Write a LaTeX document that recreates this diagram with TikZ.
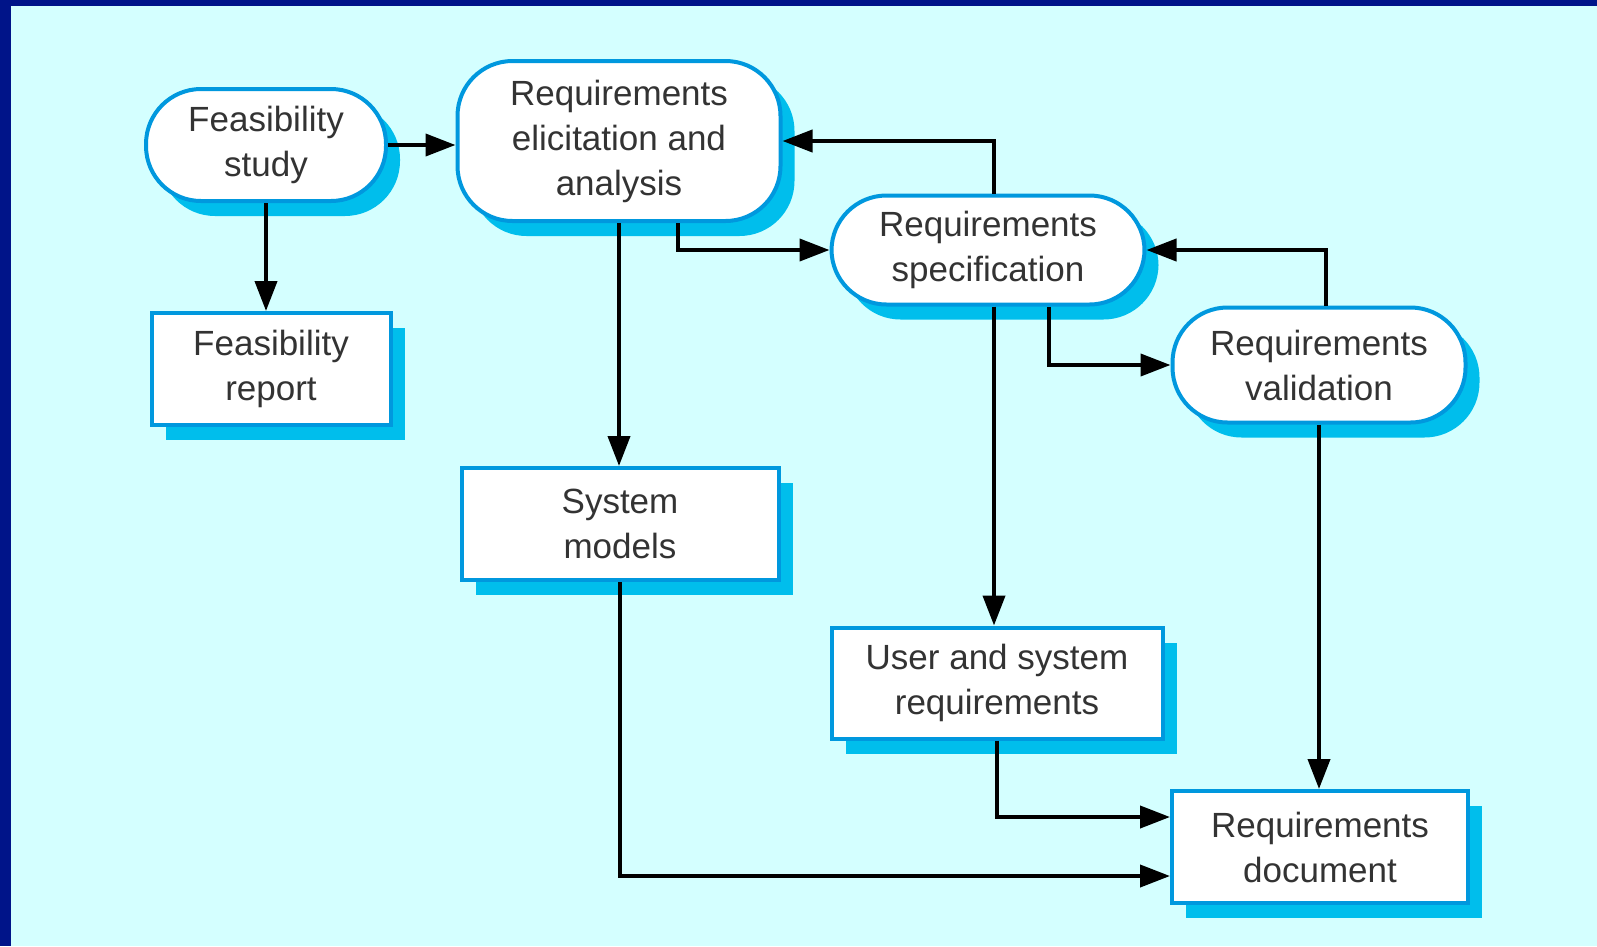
\documentclass[tikz,border=0pt]{standalone}
\usepackage{fontspec}
\setmainfont{Liberation Sans}
\usepackage{tikz}
\usetikzlibrary{arrows.meta,shadows,calc}

\definecolor{navy}{RGB}{0,20,137}
\definecolor{paper}{RGB}{212,255,255}
\definecolor{edgeblue}{RGB}{0,152,222}
\definecolor{shadecyan}{RGB}{0,190,236}

\begin{document}
\begin{tikzpicture}[x=1pt, y=-1pt, font=\fontsize{35}{45}\selectfont,
  procbox/.style={draw=edgeblue, line width=4pt, fill=white, text=black!80,
    rounded corners=55pt, align=center, inner sep=0pt,
    drop shadow={shadow xshift=14pt, shadow yshift=-15pt, fill=shadecyan, opacity=1}},
  docbox/.style={procbox, rounded corners=0pt},
  flow/.style={line width=4pt, -{Triangle[length=30pt, width=22pt]}}]
  % frame and background
  \useasboundingbox (0,0) rectangle (1597,946);
  \fill[navy] (0,0) rectangle (1597,946);
  \fill[paper] (11,6) rectangle (1597,946);
  % process steps
  \node[procbox, minimum width=240pt, minimum height=112pt] (feas) at (266,145) {Feasibility\\study};
  \node[procbox, minimum width=323pt, minimum height=160pt] (elicit) at (619,141) {Requirements\\elicitation and\\analysis};
  \node[procbox, minimum width=313pt, minimum height=109pt] (spec) at (988,250) {Requirements\\specification};
  \node[procbox, minimum width=293pt, minimum height=115pt] (valid) at (1319,365) {Requirements\\validation};
  % documents
  \node[docbox, minimum width=239pt, minimum height=112pt] (report) at (271,369) {Feasibility\\report};
  \node[docbox, minimum width=317pt, minimum height=112pt] (models) at (620,524) {System\\models};
  \node[docbox, minimum width=331pt, minimum height=111pt] (usersys) at (997,683) {User and system\\requirements};
  \node[docbox, minimum width=296pt, minimum height=112pt] (reqdoc) at (1320,847) {Requirements\\document};
  % connectors
  \draw[flow] (feas.east) -- (feas.east -| elicit.west);
  \draw[flow] (feas.south) -- (feas.south |- report.north);
  \draw[flow] (elicit.south) -- (elicit.south |- models.north);
  \draw[flow] ([xshift=59pt]elicit.south) |- (spec.west);
  \draw[flow] ([xshift=6pt]spec.north) |- (elicit.east);
  \draw[flow] ([xshift=6pt]spec.south) -- ([xshift=6pt]spec.south |- usersys.north);
  \draw[flow] ([xshift=61pt]spec.south) |- (valid.west);
  \draw[flow] ([xshift=7pt]valid.north) |- (spec.east);
  \draw[flow] (valid.south) -- (valid.south |- reqdoc.north);
  \draw[flow] (usersys.south) |- ([yshift=30pt]reqdoc.west);
  \draw[flow] (models.south) |- ([yshift=-29pt]reqdoc.west);
\end{tikzpicture}
\end{document}
